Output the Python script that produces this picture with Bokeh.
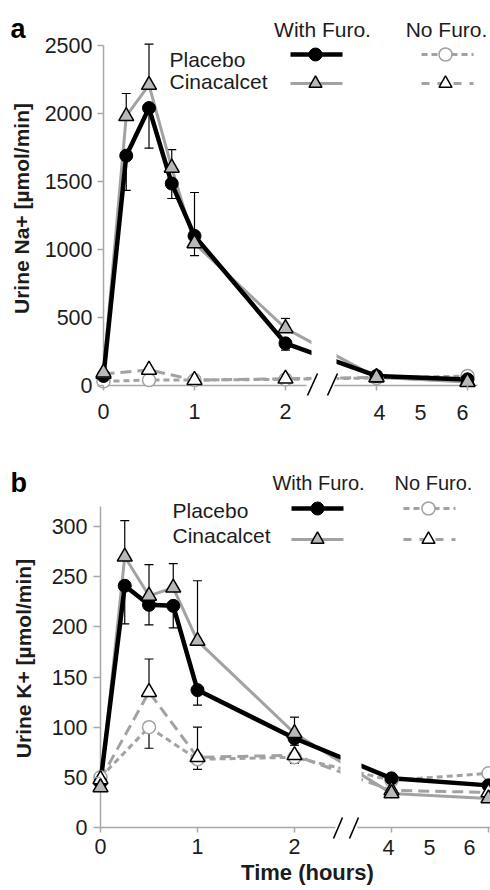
import math
from bokeh.plotting import figure
from bokeh.models import Range1d, FixedTicker, Label
from bokeh.layouts import column
from bokeh.embed import file_html
from bokeh.resources import INLINE

# ---------------- data (hours, µmol/min) ----------------
times_furo = [0, 0.25, 0.5, 0.75, 1, 2, 4, 6]
times_nofuro = [0, 0.5, 1, 2, 4, 6]

na_placebo_furo = [70, 1690, 2040, 1485, 1100, 310, 70, 45]
na_placebo_furo_err = [0, 255, 295, 110, 145, 50, 0, 0]
na_cinacalcet_furo = [95, 1980, 2210, 1600, 1045, 420, 60, 25]
na_cinacalcet_furo_err = [0, 167, 300, 135, 374, 73, 0, 0]
na_placebo_nofuro = [30, 40, 40, 45, 55, 70]
na_placebo_nofuro_err = [0, 0, 0, 0, 0, 0]
na_cinacalcet_nofuro = [85, 115, 40, 50, 60, 30]
na_cinacalcet_nofuro_err = [0, 0, 0, 0, 0, 0]

k_placebo_furo = [45, 241, 222, 221, 137, 89, 49, 42]
k_placebo_furo_err = [0, 38, 20, 22, 15, 7, 0, 0]
k_cinacalcet_furo = [40, 270, 231, 239, 186, 94, 34, 29]
k_cinacalcet_furo_err = [0, 36, 31, 24, 60, 16, 0, 0]
k_placebo_nofuro = [50, 100, 68, 70, 47, 54]
k_placebo_nofuro_err = [0, 21, 10, 6, 0, 0]
k_cinacalcet_nofuro = [48, 135, 70, 72, 37, 35]
k_cinacalcet_nofuro_err = [0, 33, 30, 0, 0, 0]

na_yticks = [0, 500, 1000, 1500, 2000, 2500]
k_yticks = [0, 50, 100, 150, 200, 250, 300]
xtick_hours = [0, 1, 2, 4, 6]
xtick_left_labels = ["0", "1", "2"]
xtick_right_labels = ["4", "5", "6"]

FONT = "Liberation Sans"
GRAY = "#a2a2a2"
TRI_FILL = "#b8b8b8"
AXIS = "#a8a8a8"
TXT = "#1c1c1c"
FIG_W = 490


def tpos(t):
    # broken time axis: full scale up to 2 h, half scale after
    return t if t <= 2 else 1 + t / 2.0


def xs_of(ts):
    return [tpos(t) for t in ts]


class Geo:
    """page-pixel <-> data conversion for layout decorations"""
    def __init__(self, px0, sx, py0, sy, top, height):
        self.px0, self.sx, self.py0, self.sy = px0, sx, py0, sy
        self.top, self.height = top, height

    def X(self, px):
        return (px - self.px0) / self.sx

    def V(self, py):
        return (self.py0 - py) / self.sy


def add_errorbars(p, ts, vals, errs, direction):
    xs, y0, y1 = [], [], []
    for t, v, e in zip(ts, vals, errs):
        if e > 0:
            xs.append(tpos(t))
            y0.append(v)
            y1.append(v + direction * e)
    if xs:
        p.segment(x0=xs, y0=y0, x1=xs, y1=y1, line_color="black", line_width=1.2)
        p.scatter(xs, y1, marker="dash", size=9, line_color="black", line_width=1.2)


def label(p, x, y, text, size="21px", align="left", baseline="middle", style="normal",
          angle=0.0, color=TXT):
    p.add_layout(Label(x=x, y=y, text=text, text_font=FONT, text_font_size=size,
                       text_font_style=style, text_align=align, text_baseline=baseline,
                       angle=angle, text_color=color))


def make_panel(c, g, pf, pfe, cf, cfe, pn, pne, cn, cne):
    p = figure(width=FIG_W, height=g.height,
               x_range=Range1d(g.X(0), g.X(FIG_W)),
               y_range=Range1d(g.V(g.top + g.height), g.V(g.top)),
               output_backend="svg", toolbar_location=None,
               min_border=0, min_border_left=0, min_border_right=0,
               min_border_top=0, min_border_bottom=0)
    p.outline_line_color = None
    p.grid.visible = False

    # y axis through x = 0
    ya = p.yaxis[0]
    ya.fixed_location = 0
    ya.ticker = FixedTicker(ticks=c["yticks"])
    ya.axis_line_color = None
    ya.major_tick_in = 0
    ya.major_tick_out = c["ytick_out"]
    ya.minor_tick_line_color = None
    ya.major_tick_line_color = AXIS
    ya.major_tick_line_width = 1.5
    ya.major_label_standoff = c["ylab_standoff"]
    ya.major_label_text_font = FONT
    ya.major_label_text_font_size = "21.5px"
    ya.major_label_text_color = TXT

    # x axis through y = 0
    xa = p.xaxis[0]
    xa.fixed_location = 0
    xa.ticker = FixedTicker(ticks=xs_of(xtick_hours))
    xa.major_label_overrides = {0: xtick_left_labels[0], 1: xtick_left_labels[1],
                                2: xtick_left_labels[2], 3: "", 4: ""}
    xa.axis_line_color = None
    xa.major_tick_in = 0
    xa.major_tick_out = 5
    xa.minor_tick_line_color = None
    xa.major_tick_line_color = AXIS
    xa.major_tick_line_width = 1.5
    xa.major_label_standoff = c["xlab_standoff"]
    xa.major_label_text_font = FONT
    xa.major_label_text_font_size = "21.5px"
    xa.major_label_text_color = TXT

    # hand-drawn axis lines (with break)
    p.segment(x0=[0], y0=[0], x1=[0], y1=[c["yaxis_top"]], line_color=AXIS, line_width=1.5)
    p.segment(x0=[0, g.X(c["axis_r0"])], y0=[0, 0],
              x1=[g.X(c["axis_l1"]), g.X(c["axis_r1"])], y1=[0, 0],
              line_color=AXIS, line_width=1.5)

    xf = xs_of(times_furo)
    xn = xs_of(times_nofuro)

    add_errorbars(p, times_nofuro, pn, pne, -1)
    add_errorbars(p, times_nofuro, cn, cne, +1)
    add_errorbars(p, times_furo, pf, pfe, -1)
    add_errorbars(p, times_furo, cf, cfe, +1)

    p.line(xn, pn, line_color=GRAY, line_width=3, line_dash="6 4")
    p.line(xn, cn, line_color=GRAY, line_width=3, line_dash="11 6")
    p.line(xf, cf, line_color=GRAY, line_width=3)
    p.line(xf, pf, line_color="black", line_width=4.5)

    p.scatter(xn, pn, marker="circle", size=13, fill_color="white", line_color=GRAY, line_width=1.5)
    p.scatter(xf, pf, marker="circle", size=13, fill_color="black", line_color="black")
    p.scatter(xn, cn, marker="triangle", size=15, fill_color="white", line_color="black", line_width=1.5)
    p.scatter(xf, cf, marker="triangle", size=15, fill_color=TRI_FILL, line_color="black", line_width=1.5)

    # break mask and break marks
    gx0, gx1, gy0, gy1 = c["gap"]
    p.quad(left=[g.X(gx0)], right=[g.X(gx1)], bottom=[g.V(gy0)], top=[g.V(gy1)],
           fill_color="white", line_color=None)
    sl = c["slashes"]
    p.segment(x0=[g.X(s[0]) for s in sl], y0=[g.V(s[1]) for s in sl],
              x1=[g.X(s[2]) for s in sl], y1=[g.V(s[3]) for s in sl],
              line_color="black", line_width=1.6)

    # right-hand tick labels
    for lx, lt in zip(c["rlab_x"], xtick_right_labels):
        label(p, g.X(lx), g.V(c["rlab_y"]), lt, size="21.5px", align="center")

    # legend
    lg = c["legend"]
    label(p, g.X(lg["hdr_x"][0]), g.V(lg["hdr_y"]), "With Furo.", size=lg["hdr_size"], align="center")
    label(p, g.X(lg["hdr_x"][1]), g.V(lg["hdr_y"]), "No Furo.", size=lg["hdr_size"], align="center")
    label(p, g.X(lg["txt_x"]), g.V(lg["txt_y"][0]), "Placebo")
    label(p, g.X(lg["txt_x"]), g.V(lg["txt_y"][1]), "Cinacalcet")
    wx0, wx1, wm = [g.X(v) for v in lg["with_x"]]
    nx0, nx1, nm = [g.X(v) for v in lg["no_x"]]
    r1, r2 = [g.V(v) for v in lg["row_y"]]
    p.line([wx0, wx1], [r1, r1], line_color="black", line_width=4.5)
    p.scatter([wm], [r1], marker="circle", size=13, fill_color="black", line_color="black")
    p.line([wx0, wx1], [r2, r2], line_color=GRAY, line_width=3)
    p.scatter([wm], [r2], marker="triangle", size=13, fill_color=TRI_FILL, line_color="black", line_width=1.5)
    p.line([nx0, nx1], [r1, r1], line_color=GRAY, line_width=3, line_dash="6 4")
    p.scatter([nm], [r1], marker="circle", size=13, fill_color="white", line_color=GRAY, line_width=1.5)
    p.line([nx0, nx1], [r2, r2], line_color=GRAY, line_width=3, line_dash="8 8")
    p.scatter([nm], [r2], marker="triangle", size=13, fill_color="white", line_color="black", line_width=1.5)

    # panel letter, axis titles
    lx, ly, lt = c["panel_lab"]
    label(p, g.X(lx), g.V(ly), lt, size="27px", style="bold", baseline="alphabetic", color="black")
    tx, ty, tt = c["ytitle"]
    label(p, g.X(tx), g.V(ty), tt, size="21px", style="bold", align="center", angle=math.pi / 2)
    if c.get("xtitle"):
        tx, ty, tt = c["xtitle"]
        label(p, g.X(tx), g.V(ty), tt, size="22px", style="bold", align="center")
    return p


# layout geometry in page pixels (x0 of axis, px per hour, y of zero, px per unit)
geo_a = Geo(px0=103, sx=91.0, py0=385, sy=0.136, top=0, height=440)
geo_b = Geo(px0=100, sx=97.0, py0=827, sy=1.003, top=440, height=448)

cfg_a = dict(yticks=na_yticks, ytick_out=6, ylab_standoff=5, xlab_standoff=13, yaxis_top=2500,
             axis_l1=306, axis_r0=334, axis_r1=477, gap=(311, 336, 383.5, 45),
             slashes=[(307, 395, 317, 373), (327, 395, 337, 373)],
             rlab_x=(379, 420, 462), rlab_y=412,
             legend=dict(hdr_x=(322, 446), hdr_y=29, hdr_size="21px", txt_x=169, txt_y=(59, 81),
                         with_x=(290, 342, 315), no_x=(421, 473, 445), row_y=(54, 83)),
             panel_lab=(10, 28, "a"), ytitle=(21, 208, "Urine Na+ [µmol/min]"))

cfg_b = dict(yticks=k_yticks, ytick_out=7, ylab_standoff=6, xlab_standoff=6, yaxis_top=320,
             axis_l1=335, axis_r0=357, axis_r1=490, gap=(340, 361, 825.5, 506),
             slashes=[(333, 838, 342, 817), (349, 838, 358, 817)],
             rlab_x=(388, 429, 469), rlab_y=847,
             legend=dict(hdr_x=(318, 433), hdr_y=482, hdr_size="20px", txt_x=172, txt_y=(510, 535),
                         with_x=(291, 343, 317), no_x=(403, 455, 428), row_y=(508, 539)),
             panel_lab=(10, 482, "b"), ytitle=(23, 658, "Urine K+ [µmol/min]"),
             xtitle=(307, 872, "Time (hours)"))

pa = make_panel(cfg_a, geo_a, na_placebo_furo, na_placebo_furo_err, na_cinacalcet_furo,
                na_cinacalcet_furo_err, na_placebo_nofuro, na_placebo_nofuro_err,
                na_cinacalcet_nofuro, na_cinacalcet_nofuro_err)
pb = make_panel(cfg_b, geo_b, k_placebo_furo, k_placebo_furo_err, k_cinacalcet_furo,
                k_cinacalcet_furo_err, k_placebo_nofuro, k_placebo_nofuro_err,
                k_cinacalcet_nofuro, k_cinacalcet_nofuro_err)

layout = column(pa, pb, spacing=0)
open("out.html", "w").write(file_html(layout, INLINE))
